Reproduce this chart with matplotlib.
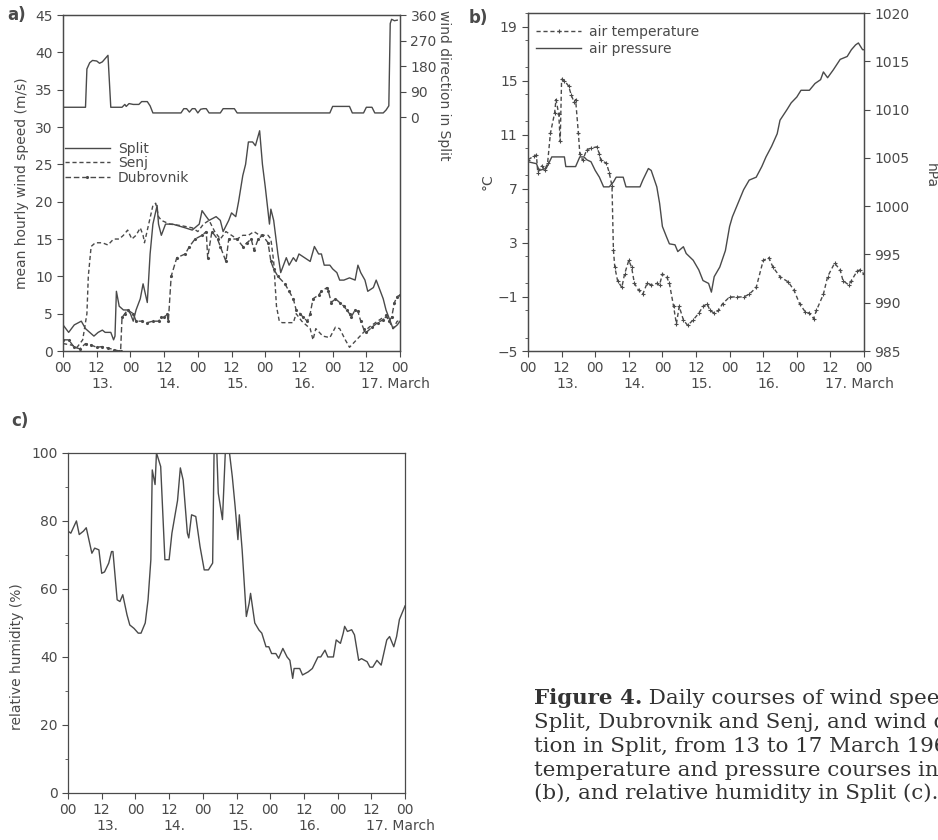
import matplotlib.pyplot as plt
from matplotlib.ticker import MultipleLocator

# hours since 13 March 00h
tick_labels = ['00', '12'] * 5 + ['00']
day_labels = ['13.', '14.', '15.', '16.', '17. March']
day_pos = [14, 38, 62, 86, 106]

# a) wind speed (m/s)
split_h = [0, 2, 4, 6.5, 8, 9.5, 11, 12.5, 14, 15,
           17, 18, 18.5, 19, 20, 21.5, 23, 24, 25, 26,
           27.5, 28.5, 30, 31, 32, 33.5, 34, 35, 36.5, 39,
           43.5, 46, 48.5, 49.5, 51, 52, 54.5, 56, 57, 59,
           60, 61.5, 62.5, 64, 65, 66, 67.5, 68.5, 70, 71,
           72, 73.5, 74, 75, 76.5, 77.5, 79.5, 80.5, 82, 83,
           84, 86, 88, 89.5, 91, 92, 93, 95, 96, 97.5,
           98.5, 100, 102, 104, 105, 106, 107.5, 108.5, 110.5, 111.5,
           113, 114, 115, 116.5, 117.5, 119, 120]
split_v = [3.5, 2.5, 3.5, 4.0, 3.0, 2.5, 2.0, 2.5, 2.8, 2.5,
           2.5, 1.5, 2.0, 8.0, 6.0, 5.5, 5.5, 5.0, 4.0, 5.5,
           7.0, 9.0, 6.5, 13, 17, 19.5, 17, 15.5, 17, 17,
           16.5, 16.2, 17, 18.8, 18, 17.5, 18, 17.5, 16, 17.5,
           18.5, 18, 20, 23.5, 25, 28, 28, 27.5, 29.5, 25,
           22, 17, 19, 17.5, 13, 10.5, 12.5, 11.5, 12.5, 12,
           13, 12.5, 12, 14, 13, 13, 11.5, 11.5, 11, 10.5,
           9.5, 9.5, 9.8, 9.5, 11.5, 10.5, 9.5, 8, 8.5, 9.5,
           8, 7, 5.5, 4, 3, 3.5, 4]

senj_h = [0, 3, 5, 7, 8.5, 9, 10, 11.5, 14, 16,
          18, 20, 21.5, 23, 24.5, 26, 27.5, 28.5, 29, 30.5,
          32, 33, 34, 35, 38, 42, 46, 48, 50, 52,
          54, 56, 58, 60, 62, 64, 66, 68, 70, 72,
          73, 74, 75, 76, 77, 78, 80, 82, 83, 85,
          88, 89, 90, 92.5, 95, 97, 98.5, 100.5, 102, 104.5,
          107, 109, 112, 114, 115.5, 117.5, 119, 120]
senj_v = [1, 0.8, 0.5, 1.5, 5, 10, 14, 14.5, 14.5, 14.2,
          15, 15, 15.5, 16.2, 15, 15.5, 16.5, 15.5, 14.5, 17,
          19.5, 19.8, 18, 17.5, 17, 16.8, 16.5, 16, 17, 17.5,
          16, 15, 16, 15.5, 15, 15.5, 15.5, 16, 15.5, 15.5,
          15.5, 15, 12, 6, 4, 3.8, 3.8, 3.8, 5, 4,
          3, 1.5, 3, 2, 1.8, 3.2, 3, 1.5, 0.5, 1.5,
          2.5, 3.2, 4, 4.5, 4.5, 3, 4, 4]

dubrovnik_h = [0, 2, 4, 6, 8, 10, 12, 14, 16, 18,
               20, 20.5, 21, 22, 23, 25, 26, 28, 30, 32,
               34, 35, 36, 37, 37.5, 38.5, 40.5, 43.5, 45, 47,
               49.5, 51, 51.5, 53, 55, 56, 58, 59, 62, 64,
               65.5, 67, 68, 69.5, 71, 73, 74, 75, 76.5, 79,
               80.5, 82, 83, 84.5, 85.5, 87, 88, 89, 91, 92,
               94, 94.5, 95.5, 97, 98.5, 100, 101, 102, 102.5, 104,
               105, 106, 107, 108, 110, 112, 114, 115, 116, 117,
               118, 119, 120]
dubrovnik_v = [1.5, 1.5, 0.5, 0.3, 1.0, 0.8, 0.5, 0.6, 0.4, 0.2,
               0.0, 0.0, 4.5, 5.0, 5.5, 5.0, 4.0, 4.0, 3.8, 4.0,
               4.0, 4.5, 4.5, 5.0, 4.0, 10, 12.5, 13, 14, 15,
               15.5, 16, 12.5, 16, 15, 14, 12, 15, 15, 14,
               14.5, 15, 13.5, 15, 15.5, 14.5, 12, 11, 10, 9,
               8, 7, 5.5, 5, 4.5, 4, 5, 7, 7.5, 8,
               8.5, 8, 6.5, 7, 6.5, 6, 5.5, 5, 4.5, 5.5,
               5.3, 4.0, 3.0, 2.5, 3.2, 3.8, 4.2, 4.8, 4.0, 4.5,
               6.5, 7.3, 7.5]

# a) wind direction in Split (deg)
dir_h = [0, 8, 8.5, 9.5, 10.5, 12, 13, 14, 16, 17,
         21, 22, 22.5, 23.5, 25, 27, 28, 30, 31, 32,
         42, 43, 44, 45, 46, 47, 48, 49, 50, 51,
         52, 56, 57, 61, 62, 95, 96, 102, 103, 107,
         108, 110, 111, 114, 115, 116, 116.5, 117, 118, 119]
dir_v = [35, 35, 170, 192, 200, 198, 190, 195, 218, 35,
         35, 45, 38, 48, 45, 45, 55, 55, 40, 15,
         15, 30, 30, 18, 30, 30, 15, 28, 30, 30,
         15, 15, 30, 30, 15, 15, 38, 38, 15, 15,
         35, 35, 15, 15, 25, 40, 330, 345, 340, 342]

# b) air temperature (deg C) and pressure (hPa)
temp_h = [0, 2, 3, 3.5, 5, 6, 7, 8, 9.5, 10,
          11, 11.5, 12, 13, 14.5, 15.5, 16.5, 17, 18, 18.5,
          19.5, 21, 22.5, 24.5, 25.5, 26, 28, 29, 30, 30.5,
          31, 32, 33.5, 34.5, 36, 37, 38, 39.5, 41, 42.5,
          44, 46, 47, 48, 49.5, 50.5, 52, 53, 54, 55.5,
          57, 59, 61, 62.5, 64, 65, 66.5, 68, 69.5, 72,
          74.5, 77, 79, 81.5, 84, 86, 87.5, 90, 93, 95,
          97, 99, 100.5, 102, 103, 105.5, 107, 109.5, 111.5, 112.5,
          114.5, 115.5, 117.5, 118.5, 120]
temp_v = [9.15, 9.4, 9.5, 8.2, 8.7, 8.4, 8.9, 11.1, 12.6, 13.6,
          12.5, 10.5, 15.1, 15.0, 14.6, 13.9, 13.4, 13.6, 11.1, 9.6,
          9.1, 9.9, 10.0, 10.1, 9.6, 9.1, 8.9, 8.2, 7.2, 2.5,
          1.2, 0.2, -0.3, 0.7, 1.7, 1.2, 0.0, -0.5, -0.8, 0.0,
          -0.1, 0.0, -0.1, 0.7, 0.5, 0.0, -1.7, -3.0, -1.7, -2.7,
          -3.1, -2.7, -2.2, -1.7, -1.5, -2.0, -2.2, -2.0, -1.5, -1.0,
          -1.0, -1.0, -0.8, -0.3, 1.7, 1.9, 1.2, 0.5, 0.1, -0.5,
          -1.5, -2.1, -2.2, -2.6, -2.0, -0.8, 0.5, 1.5, 1.0, 0.2,
          -0.1, 0.2, 0.9, 1.0, 0.7]

pres_h = [0, 3, 4, 6.5, 8.5, 11.5, 13, 13.5, 17, 18.5,
          20, 21, 22.5, 24, 25.5, 27, 29, 30.5, 31.5, 34,
          35, 40, 41, 43, 44, 46, 47, 48, 49.5, 50.5,
          52.5, 53.5, 55.5, 56.5, 59, 61, 62.5, 64.5, 65.5, 66.5,
          68.5, 70.5, 72, 73, 75, 77, 79, 81.5, 83.5, 85,
          87, 89, 90, 92.5, 94, 96, 97.5, 100.5, 102.5, 104.5,
          105.5, 107, 109, 111.5, 114, 115.5, 117, 118, 119.5, 120]
pres_v = [1004.6, 1004.4, 1003.7, 1003.9, 1005.1, 1005.1, 1005.1, 1004.1, 1004.1, 1005.1,
          1005.1, 1004.8, 1004.6, 1003.7, 1003.0, 1002.0, 1002.0, 1002.5, 1003.0, 1003.0,
          1002.0, 1002.0, 1002.7, 1003.9, 1003.7, 1002.0, 1000.3, 997.9, 996.8, 996.1,
          996.0, 995.3, 995.8, 995.1, 994.4, 993.4, 992.3, 992.0, 991.1, 992.7,
          993.7, 995.4, 997.9, 998.9, 1000.3, 1001.7, 1002.7, 1003.0, 1004.1, 1005.1,
          1006.2, 1007.5, 1008.9, 1010.0, 1010.7, 1011.3, 1012.0, 1012.0, 1012.7, 1013.1,
          1013.9, 1013.3, 1014.1, 1015.2, 1015.5, 1016.2, 1016.7, 1016.9, 1016.2, 1016.2]

# c) relative humidity (%)
rh_h = [0, 1, 3, 4, 5.5, 6.5, 8.5, 9.5, 11, 12,
        13, 14.5, 15.5, 16, 17.5, 18.5, 19.5, 21, 22, 23.5,
        25, 26, 27.5, 28.5, 29.5, 30, 31, 31.5, 33, 34.5,
        36, 37, 39, 40, 41, 42.5, 43, 44, 45.5, 47,
        48.5, 50, 51.5, 52, 53, 53.5, 55, 56, 57.5, 58.5,
        59.5, 60.5, 61, 62, 63.5, 64.5, 65, 66.5, 68, 69,
        70.5, 71.5, 72.5, 74, 75, 76.5, 78, 79, 80, 80.5,
        82.5, 83.5, 85.5, 87, 89, 90, 91.5, 92.5, 94.5, 95.5,
        97, 98, 98.5, 99.5, 101, 102, 103.5, 104.5, 106.5, 107.5,
        108.5, 110, 111.5, 113.5, 114.5, 116, 117, 118, 119.5, 120]
rh_v = [77, 76.4, 80, 76, 77, 78, 70.5, 72, 71.5, 64.6,
        65, 67.6, 71, 71, 56.8, 56.3, 58.3, 52.4, 49.4, 48.4,
        47, 47, 50, 56.8, 68.6, 95, 90.7, 100, 96, 68.6,
        68.6, 76.4, 86, 95.6, 92, 76.4, 75, 81.8, 81.3, 72.5,
        65.6, 65.6, 67.6, 100, 100, 88.2, 80.4, 100, 100, 93,
        84.3, 74.5, 81.8, 71.5, 51.9, 55.8, 58.7, 50, 47.9, 47,
        43, 43, 41, 41, 39.6, 42.5, 40, 39, 33.7, 36.6,
        36.6, 34.7, 35.6, 36.6, 40, 40, 42, 40, 40, 45,
        44, 47, 49, 47.5, 48, 46.5, 39, 39.5, 38.6, 37,
        37, 39, 37.6, 45, 46, 43, 46, 51, 54, 55]

caption_head = 'Figure 4.'
caption_first = ' Daily courses of wind speed in'
caption = ['Split, Dubrovnik and Senj, and wind direc-',
           'tion in Split, from 13 to 17 March 1962, air',
           'temperature and pressure courses in Split',
           '(b), and relative humidity in Split (c).']

INK = '#4a4a4a'
plt.rcParams.update({
    'font.family': 'DejaVu Sans',
    'font.size': 10,
    'text.color': INK,
    'axes.edgecolor': INK,
    'axes.labelcolor': INK,
    'xtick.color': INK,
    'ytick.color': INK,
    'axes.linewidth': 0.9,
    'xtick.direction': 'out',
    'ytick.direction': 'out',
    'xtick.major.size': 4,
    'ytick.major.size': 4,
    'ytick.minor.size': 2.5,
})

LW = 1.0

fig = plt.figure(figsize=(9.38, 8.4), dpi=100)
ax_a = fig.add_axes([0.0672, 0.5821, 0.3593, 0.4000])
ax_b = fig.add_axes([0.5629, 0.5821, 0.3582, 0.4024])
ax_c = fig.add_axes([0.0725, 0.0560, 0.3593, 0.4048])


def time_axis(ax):
    ax.set_xlim(0, 120)
    ax.set_xticks(range(0, 121, 12))
    ax.set_xticklabels(tick_labels)
    for d, lab in zip(day_pos, day_labels):
        ax.annotate(lab, xy=(d, 0), xycoords=('data', 'axes fraction'),
                    xytext=(0, -19), textcoords='offset points',
                    ha='left' if 'March' in lab else 'center', va='top',
                    annotation_clip=False)


# ---- a) wind speed + direction
ax_a.plot(split_h, split_v, color=INK, lw=LW, label='Split')
ax_a.plot(senj_h, senj_v, color=INK, lw=LW, ls=(0, (3, 2)), label='Senj')
ax_a.plot(dubrovnik_h, dubrovnik_v, color=INK, lw=LW, ls=(0, (4, 2)),
          marker='.', ms=2.5, label='Dubrovnik')
ax_a.set_ylim(0, 45)
ax_a.yaxis.set_major_locator(MultipleLocator(5))
ax_a.set_ylabel('mean hourly wind speed (m/s)', labelpad=4)
time_axis(ax_a)
ax_a.legend(loc='upper left', bbox_to_anchor=(-0.01, 0.64), frameon=False,
            handlelength=3.2, handletextpad=0.6, labelspacing=0.05,
            borderaxespad=0)

ax_d = ax_a.twinx()
ax_d.plot(dir_h, dir_v, color=INK, lw=LW)
ax_d.set_ylim(-824, 360)
ax_d.set_yticks([0, 90, 180, 270, 360])
ax_d.set_ylabel('wind direction in Split', rotation=270, va='center')
ax_d.yaxis.set_label_coords(1.13, 0.79)

# ---- b) temperature + pressure
ax_b.plot(temp_h, temp_v, color=INK, lw=LW, ls=(0, (3, 2)), marker='+',
          ms=3.5, mew=0.8, label='air temperature')
ax_b.plot([], [], color=INK, lw=LW, label='air pressure')
ax_b.set_ylim(-5, 20)
ax_b.set_yticks([-5, -1, 3, 7, 11, 15, 19])
ax_b.set_yticklabels(['\u22125', '\u22121', '3', '7', '11', '15', '19'])
ax_b.yaxis.set_minor_locator(MultipleLocator(2))
ax_b.set_ylabel('\u00b0C', labelpad=2)
time_axis(ax_b)
ax_b.legend(loc='upper left', bbox_to_anchor=(0.0, 0.99), frameon=False,
            handlelength=3.2, handletextpad=0.6, labelspacing=0.2,
            borderaxespad=0.2)

ax_p = ax_b.twinx()
ax_p.plot(pres_h, pres_v, color=INK, lw=LW)
ax_p.set_ylim(985, 1020)
ax_p.yaxis.set_major_locator(MultipleLocator(5))
ax_p.set_ylabel('hPa', rotation=270, va='center')
ax_p.yaxis.set_label_coords(1.2, 0.52)

# ---- c) relative humidity
ax_c.plot(rh_h, rh_v, color=INK, lw=LW)
ax_c.set_ylim(0, 100)
ax_c.yaxis.set_major_locator(MultipleLocator(20))
ax_c.yaxis.set_minor_locator(MultipleLocator(10))
ax_c.set_ylabel('relative humidity (%)', labelpad=4)
ax_c.yaxis.set_label_coords(-0.13, 0.40)
time_axis(ax_c)

# panel letters
fig.text(0.008, 0.982, 'a)', fontsize=12, fontweight='bold', va='center')
fig.text(0.500, 0.979, 'b)', fontsize=12, fontweight='bold', va='center')
fig.text(0.012, 0.499, 'c)', fontsize=12, fontweight='bold', va='center')

# caption (runs off the right edge, as in the scan)
CAP = dict(family='DejaVu Serif', fontsize=15.4, va='center', color='#333333')
x0 = 534 / 938
head = fig.text(x0, 1 - 698 / 840, caption_head, fontweight='bold', **CAP)
fig.canvas.draw()
bb = head.get_window_extent(fig.canvas.get_renderer())
fig.text(bb.x1 / fig.bbox.width, 1 - 698 / 840, caption_first, **CAP)
for i, line in enumerate(caption):
    fig.text(x0, 1 - (723 + 23.5 * i) / 840, line, **CAP)

fig.savefig('out.png', dpi=100)
